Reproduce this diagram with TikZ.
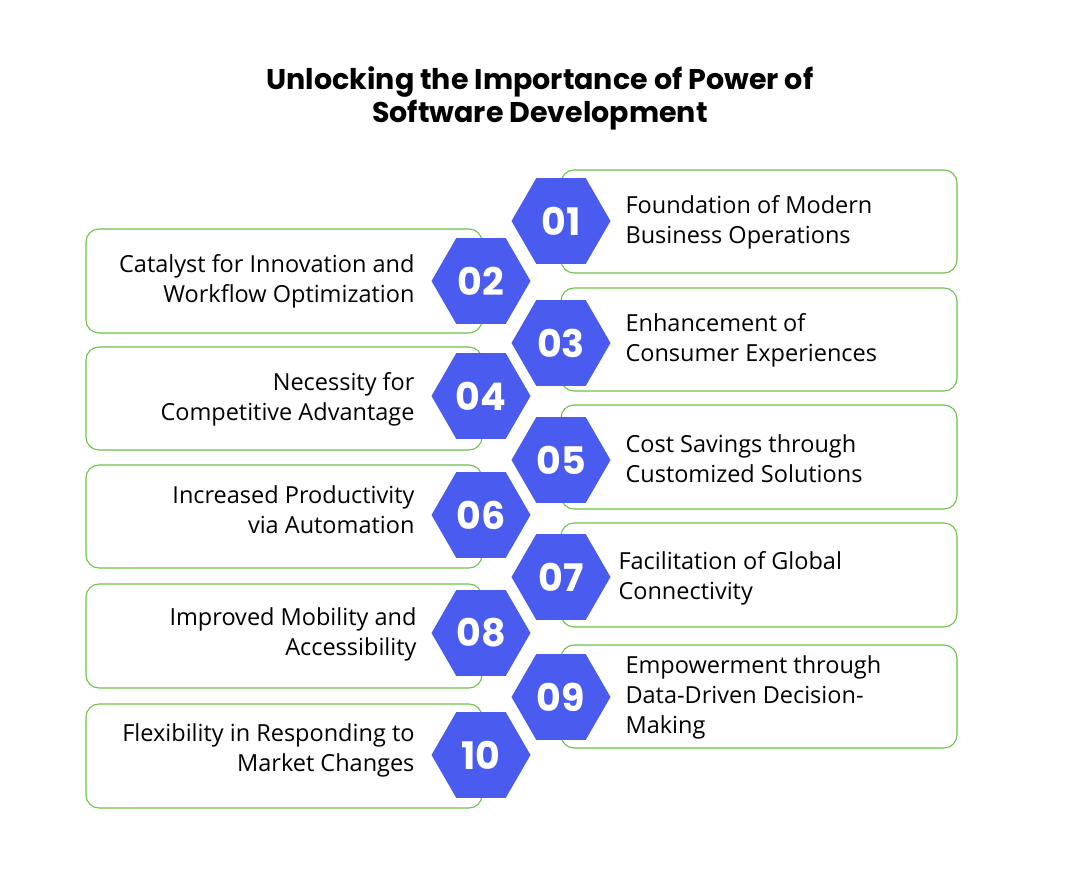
\documentclass[tikz,border=0pt]{standalone}
\usepackage{fontspec}
\setmainfont{Open Sans}
\newfontfamily\popp{Poppins}
\usetikzlibrary{shapes.geometric}
\definecolor{hexblue}{HTML}{4A5CF0}
\definecolor{boxgreen}{HTML}{6CC24A}
\tikzset{
  itembox/.style={draw=boxgreen,line width=1.1pt,rounded corners=13pt},
  hexa/.style={regular polygon,regular polygon sides=6,fill=hexblue,minimum size=99pt,inner sep=0pt,text=white,font=\popp\bfseries\fontsize{38}{38}\selectfont},
  rtxt/.style={anchor=west,align=left,font=\fontsize{23.5}{30}\selectfont,text=black},
  ltxt/.style={anchor=east,align=right,font=\fontsize{23.5}{30}\selectfont,text=black},
}
\begin{document}
\begin{tikzpicture}[x=1pt,y=-1pt]
\useasboundingbox (0,0) rectangle (1080,882);
\node[font=\popp\bfseries\fontsize{28.5}{33}\selectfont,align=center] (title) at (540,98) {Unlocking the Importance of Power of\\Software Development};
% right boxes
\draw[itembox] (561,170) rectangle (957,273);
\draw[itembox] (561,288) rectangle (957,391);
\draw[itembox] (561,405) rectangle (957,509);
\draw[itembox] (561,523) rectangle (957,627);
\draw[itembox] (561,645) rectangle (957,748);
% left boxes
\draw[itembox] (86,229) rectangle (482,333);
\draw[itembox] (86,347) rectangle (482,450);
\draw[itembox] (86,465) rectangle (482,568);
\draw[itembox] (86,584) rectangle (482,688);
\draw[itembox] (86,704) rectangle (482,808);
% hexagons
\node[hexa] (h1) at (561,221) {01};
\node[hexa] (h2) at (481,281) {02};
\node[hexa] (h3) at (561,343) {03};
\node[hexa] (h4) at (481,396) {04};
\node[hexa] (h5) at (561,460) {05};
\node[hexa] (h6) at (481,515) {06};
\node[hexa] (h7) at (561,577) {07};
\node[hexa] (h8) at (481,633) {08};
\node[hexa] (h9) at (561,697) {09};
\node[hexa] (h10) at (481,755) {10};
% texts
\node[rtxt] (t1) at (622,222) {Foundation of Modern\\Business Operations};
\node[ltxt] (t2) at (418,281) {Catalyst for Innovation and\\Workflow Optimization};
\node[rtxt] (t3) at (622,340) {Enhancement of\\Consumer Experiences};
\node[ltxt] (t4) at (418,399) {Necessity for\\Competitive Advantage};
\node[rtxt] (t5) at (622,459) {Cost Savings through\\Customized Solutions};
\node[ltxt] (t6) at (418,510) {Increased Productivity\\via Automation};
\node[rtxt] (t7) at (615,578) {Facilitation of Global\\Connectivity};
\node[ltxt] (t8) at (420,634) {Improved Mobility and\\Accessibility};
\node[rtxt] (t9) at (622,697) {Empowerment through\\Data-Driven Decision-\\Making};
\node[ltxt] (t10) at (418,750) {Flexibility in Responding to\\Market Changes};
\end{tikzpicture}
\end{document}
